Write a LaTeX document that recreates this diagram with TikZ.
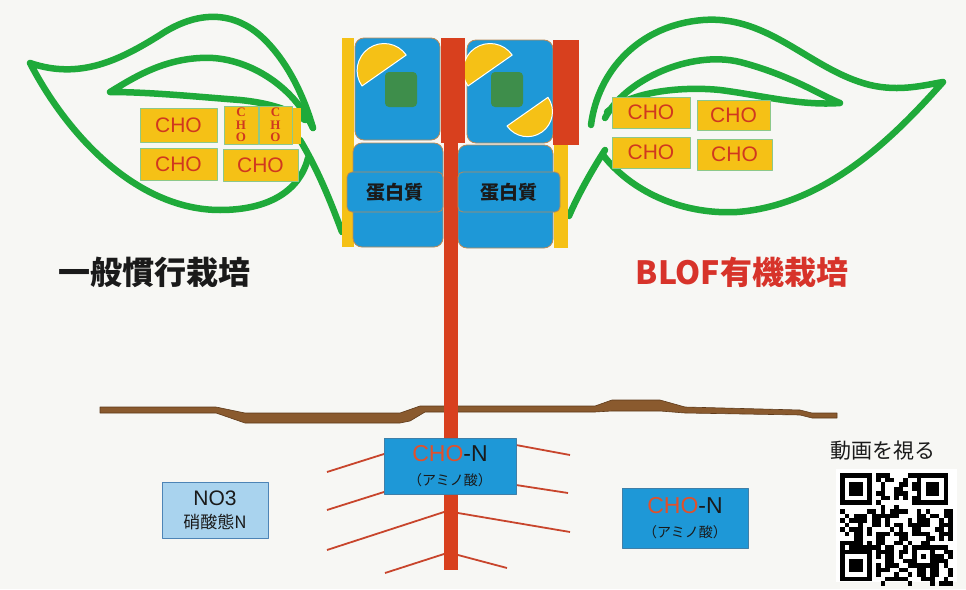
\documentclass[tikz,border=0pt]{standalone}
\usepackage{fontspec}
\setmainfont{Liberation Sans}
\newfontfamily\jp{Noto Sans CJK JP}
\newfontfamily\serifb{Liberation Serif}
\newcommand\aminolabel{\jp\fontsize{14}{14}\selectfont （アミノ酸）}
\definecolor{bg}{HTML}{F7F7F4}
\definecolor{leafg}{HTML}{1FAA3A}
\definecolor{choy}{HTML}{F5C116}
\definecolor{choedge}{HTML}{8CC88A}
\definecolor{chor}{HTML}{D0381F}
\definecolor{stemr}{HTML}{D8401E}
\definecolor{cellb}{HTML}{1E98D7}
\definecolor{celledge}{HTML}{B88A58}
\definecolor{chlo}{HTML}{3E8E4B}
\definecolor{soil}{HTML}{8A5A2E}
\definecolor{soild}{HTML}{5E3A1A}
\definecolor{no3}{HTML}{A9D3EE}
\definecolor{no3edge}{HTML}{4D84B6}
\definecolor{ink}{HTML}{1A1A1A}
\definecolor{blofr}{HTML}{D7332A}
\definecolor{rootr}{HTML}{C8452C}
\definecolor{amino}{HTML}{E2502A}
\definecolor{aminoedge}{HTML}{3F7FA8}
\begin{document}
\begin{tikzpicture}[x=1pt,y=-1pt,line join=round,
  leaf/.style={draw=leafg,line width=6.5,line cap=round},
  cho/.style={fill=choy,draw=choedge,line width=0.7,text=chor,inner sep=0,
    font=\fontsize{21}{21}\selectfont},
  chov/.style={cho,font=\serifb\bfseries\fontsize{13}{12.5}\selectfont,align=center},
  cell/.style={fill=cellb,draw=celledge,line width=0.8,rounded corners=9},
  protein/.style={fill=cellb,draw=celledge,line width=0.8,rounded corners=5,inner sep=0,
    font=\jp\bfseries\fontsize{19}{19}\selectfont,text=ink},
  halfdisc/.style={fill=choy,draw=white,line width=1},
  chloro/.style={fill=chlo,rounded corners=4},
  heading/.style={font=\jp\bfseries\fontsize{32}{32}\selectfont,inner sep=0},
  aminobox/.style={fill=cellb,draw=aminoedge,line width=0.7,inner sep=0,align=center,text=ink,
    font=\fontsize{23}{23}\selectfont},
  root/.style={draw=rootr,line width=1.8},
  qr/.style={fill=black}]
\useasboundingbox (0,0) rectangle (966,589);
\fill[bg] (0,0) rectangle (966,589);

% ---- left leaf ----
\draw[leaf] (313,128) .. controls (305,100) and (290,65) .. (265,40)
  .. controls (230,5) and (190,15) .. (160,35)
  .. controls (120,60) and (80,80) .. (30,63)
  .. controls (70,140) and (140,210) .. (220,210)
  .. controls (270,210) and (300,190) .. (308,158);
\draw[leaf] (300,140) .. controls (318,170) and (330,200) .. (342,232);
\draw[leaf] (313,128) .. controls (290,80) and (240,55) .. (200,58)
  .. controls (160,60) and (130,80) .. (110,92)
  .. controls (150,92) and (200,97) .. (240,100)
  .. controls (270,103) and (290,110) .. (305,120);

% ---- right leaf ----
\draw[leaf] (591,125) .. controls (598,70) and (640,25) .. (703,20)
  .. controls (770,15) and (810,70) .. (870,85)
  .. controls (900,92) and (925,85) .. (943,82)
  .. controls (900,130) and (830,205) .. (737,212)
  .. controls (680,215) and (630,190) .. (603,155);
\draw[leaf] (605,150) .. controls (592,170) and (578,195) .. (569,216);
\draw[leaf] (605,118) .. controls (625,80) and (690,50) .. (740,62)
  .. controls (790,75) and (820,95) .. (840,103)
  .. controls (800,106) and (760,95) .. (720,90)
  .. controls (680,86) and (630,92) .. (607,112);

% ---- cells on the stem ----
\fill[choy] (342,38) rectangle (354,247);
\fill[choy] (554,145) rectangle (568,248);
\draw[cell] (355,38) rectangle (440,140);
\draw[cell] (467,40) rectangle (553,143);
\draw[cell] (353,143) rectangle (443,247);
\draw[cell] (458,145) rectangle (553,248);
\draw[halfdisc] (362,86) arc[start angle=145,end angle=325,radius=27] -- cycle;
\fill[chloro] (385,72) rectangle (417,107);
\draw[halfdisc] (468,86) arc[start angle=145,end angle=325,radius=27] -- cycle;
\fill[chloro] (491,72) rectangle (523,107);
\draw[halfdisc] (507,126) arc[start angle=145,end angle=-35,radius=25] -- cycle;
\fill[stemr] (441,38) rectangle (465,143);
\fill[stemr] (553,40) rectangle (579,145);
\fill[stemr] (444,140) rectangle (458,412);
\node[protein,minimum width=96,minimum height=40] (p1) at (395,192) {蛋白質};
\node[protein,minimum width=102,minimum height=40] (p2) at (509,192) {蛋白質};

% ---- sugar blocks in the leaves ----
\node[cho,minimum width=77,minimum height=34] (l1) at (178.5,125) {CHO};
\node[cho,minimum width=77,minimum height=32] (l2) at (178.5,164) {CHO};
\node[cho,minimum width=75,minimum height=32] (l3) at (260.5,165) {CHO};
\fill[choy] (290,108) rectangle (301,144);
\node[chov,minimum width=34,minimum height=38] (l4) at (241,125) {C\\H\\O};
\node[chov,minimum width=33,minimum height=38] (l5) at (275.5,125) {C\\H\\O};
\node[cho,minimum width=78,minimum height=31] (r1) at (651,112.5) {CHO};
\node[cho,minimum width=73,minimum height=30] (r2) at (733.5,115) {CHO};
\node[cho,minimum width=78,minimum height=31] (r3) at (651,152.5) {CHO};
\node[cho,minimum width=75,minimum height=31] (r4) at (734.5,154.5) {CHO};

% ---- headings ----
\node[heading,text=ink] (conv) at (154,272) {一般慣行栽培};
\node[heading,text=blofr] (blof) at (742,272) {BLOF有機栽培};

% ---- ground line ----
\filldraw[fill=soil,draw=soild,line width=0.6]
  (100,407) -- (216,407) -- (245,413) -- (400,413) -- (420,406) -- (595,406)
  -- (612,400) -- (660,400) -- (685,407) -- (800,410) -- (812,413) -- (837,413)
  -- (837,418) -- (812,418) -- (800,415) -- (685,413) -- (660,411) -- (612,411)
  -- (595,412) -- (425,412) -- (410,421) -- (400,423) -- (245,423) -- (216,413)
  -- (100,413) -- cycle;
\fill[stemr] (444,400) rectangle (458,570);

% ---- roots ----
\draw[root] (327,472) -- (384,454);
\draw[root] (327,510) -- (384,492);
\draw[root] (327,550) -- (444,512);
\draw[root] (385,573) -- (444,554);
\draw[root] (516,445) -- (570,455);
\draw[root] (516,485) -- (568,493);
\draw[root] (458,513) -- (570,532);
\draw[root] (458,555) -- (507,568);

% ---- nitrogen forms ----
\node[aminobox,minimum width=132,minimum height=56] (aa1) at (450,466)
  {\textcolor{amino}{CHO}-N\\[1pt]{\aminolabel}};
\node[aminobox,minimum width=126,minimum height=60] (aa2) at (685,518)
  {\textcolor{amino}{CHO}-N\\[1pt]{\aminolabel}};
\node[fill=no3,draw=no3edge,line width=0.9,minimum width=106,minimum height=56,inner sep=0,
  align=center,text=ink,font=\fontsize{21}{21}\selectfont] (no3) at (215,510)
  {NO3\\[2pt]{\jp\fontsize{17}{17}\selectfont 硝酸態N}};

% ---- video link ----
\node[font=\jp\fontsize{21}{21}\selectfont,text=ink,inner sep=0] (vid) at (883,451) {動画を視る};
\fill[white] (836,469) rectangle (957,582);
\pgfmathsetseed{4127}
\foreach \r in {0,...,24}{
  \foreach \c in {0,...,24}{
    \pgfmathtruncatemacro\qskip{((\r<8)&&(\c<8)) || ((\r<8)&&(\c>16)) || ((\r>16)&&(\c<8)) || ((\r>15)&&(\r<21)&&(\c>15)&&(\c<21))}
    \ifnum\qskip=0
      \pgfmathtruncatemacro\qbit{rnd<0.5}
      \ifnum\qbit=1 \fill[qr] (840+\c*4.5,473+\r*4.5) rectangle ++(4.5,4.5); \fi
    \fi
  }
}
\foreach \px/\py in {840/473, 916.5/473, 840/549.5}{
  \fill[qr] (\px,\py) rectangle ++(31.5,31.5);
  \fill[white] (\px+4.5,\py+4.5) rectangle ++(22.5,22.5);
  \fill[qr] (\px+9,\py+9) rectangle ++(13.5,13.5);
}
\fill[qr] (912,545) rectangle ++(22.5,22.5);
\fill[white] (916.5,549.5) rectangle ++(13.5,13.5);
\fill[qr] (921,554) rectangle ++(4.5,4.5);
\end{tikzpicture}
\end{document}
